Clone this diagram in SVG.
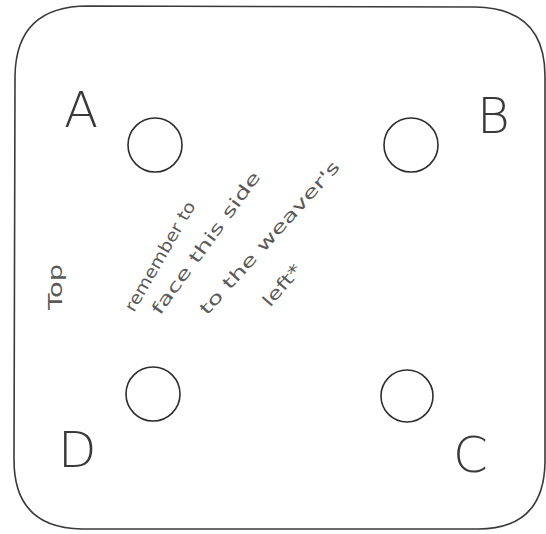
<svg xmlns="http://www.w3.org/2000/svg" width="546" height="534" viewBox="0 0 546 534">
<style>
.card{fill:none;stroke:#3a3a3a;stroke-width:1.6}
.hole{fill:none;stroke:#2e2e2e;stroke-width:1.6}
.lbl{font-family:"DejaVu Sans",sans-serif;font-size:50px;fill:#3a3a3a;font-weight:300}
.note{font-family:"DejaVu Sans",sans-serif;font-size:17px;fill:#5a5a5a}
</style>
<rect width="546" height="534" fill="#fff"/>
<g id="card">
<path class="card" d="M88 6 L475 7 Q545 8 545 76 L545 462 Q544 529 478 529 L82 529 Q14 528 14 460 L15 76 Q16 6 88 6 Z"/>
</g>
<g id="hole-A"><circle class="hole" cx="155" cy="145" r="27"/></g>
<g id="hole-B"><circle class="hole" cx="411" cy="145" r="27"/></g>
<g id="hole-D"><circle class="hole" cx="153" cy="394" r="27"/></g>
<g id="hole-C"><circle class="hole" cx="407" cy="396" r="26"/></g>
<g id="label-A"><text class="lbl" x="64" y="127">A</text></g>
<g id="label-B"><text class="lbl" x="477" y="133">B</text></g>
<g id="label-D"><text class="lbl" x="58" y="467">D</text></g>
<g id="label-C"><text class="lbl" x="453" y="472">C</text></g>
<g id="label-top"><text class="note" x="62" y="310" transform="rotate(-90 62 310)" textLength="46" lengthAdjust="spacingAndGlyphs" style="font-size:19px">Top</text></g>
<g id="note">
<text class="note" x="134" y="313" transform="rotate(-60 134 313)" textLength="124" lengthAdjust="spacingAndGlyphs">remember to</text>
<text class="note" x="160" y="316" transform="rotate(-54 160 316)" textLength="172" lengthAdjust="spacingAndGlyphs">face this side</text>
<text class="note" x="207" y="316" transform="rotate(-48 207 316)" textLength="200" lengthAdjust="spacingAndGlyphs">to the weaver's</text>
<text class="note" x="270" y="308" transform="rotate(-49 270 308)" textLength="50" lengthAdjust="spacingAndGlyphs">left*</text>
</g>
</svg>
